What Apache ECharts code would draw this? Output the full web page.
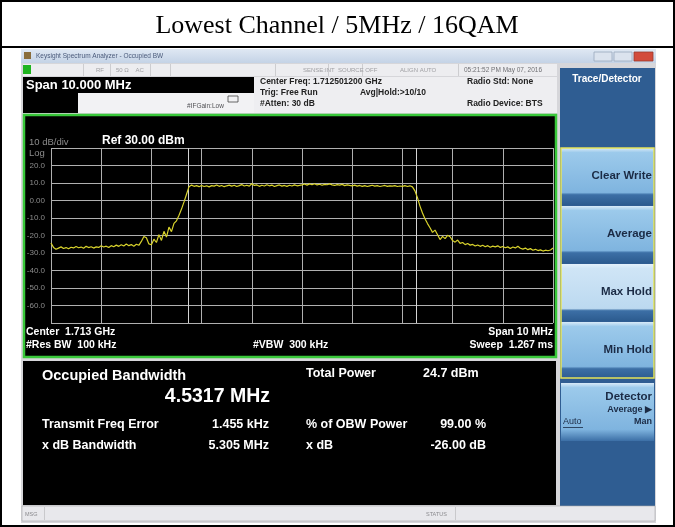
<!DOCTYPE html>
<html>
<head>
<meta charset="utf-8">
<script src="https://cdn.jsdelivr.net/npm/echarts@6/dist/echarts.min.js"></script>
<style>
html, body {margin: 0; padding: 0; background: #fff;}
#main {width: 675px; height: 527px;}
</style>
</head>
<body>
<div id="main"></div>
<script>
// trace: offset from center freq (MHz), one point every 0.05 MHz
var freqStart = -5
var freqStep = 0.05
var traceDbm = [
  -24.3, -26.8, -27.9, -27.2, -26.5, -27.4, -26.9, -27.6, -26.7, -27.1,
  -26.3, -27.0, -26.6, -27.3, -26.2, -26.9, -26.4, -27.2, -26.5, -26.8,
  -25.9, -26.6, -26.1, -26.9, -25.8, -26.4, -25.5, -26.2, -25.3, -26.0,
  -24.9, -25.8, -25.2, -26.1, -25.0, -25.6, -23.4, -20.6, -21.3, -24.8,
  -25.3, -22.1, -24.0, -19.5, -22.8, -17.6, -20.9, -15.2, -17.8, -13.1,
  -11.6, -8.4, -4.9, -0.8, 3.6, 7.9, 8.8, 8.1, 8.5, 7.9,
  8.6, 8.0, 8.4, 7.8, 8.5, 8.2, 8.9, 8.1, 8.6, 7.9,
  8.4, 8.8, 8.2, 8.7, 8.0, 8.5, 9.1, 8.3, 8.7, 8.2,
  9.6, 8.6, 8.9, 8.1, 8.7, 8.3, 9.0, 8.4, 8.8, 8.0,
  8.5, 8.9, 8.2, 8.6, 8.1, 8.7, 8.3, 8.9, 8.4, 8.6,
  8.9, 9.4, 8.8, 9.5, 9.0, 9.6, 8.9, 9.3, 8.7, 9.2,
  9.0, 9.5, 8.9, 8.6, 9.1, 8.8, 9.2, 8.5, 8.9, 8.6,
  8.4, 8.8, 8.2, 8.6, 8.1, 8.5, 8.0, 8.4, 8.7, 8.2,
  8.5, 8.0, 8.3, 8.6, 8.1, 8.4, 8.2, 8.5, 8.0, 8.3,
  8.1, 8.5, 8.0, 8.4, 7.8, 5.5, 1.6, -3.2, -7.1, -10.4,
  -13.2, -15.6, -18.2, -16.9, -19.6, -22.3, -20.5, -21.8, -19.9, -20.7,
  -22.9, -23.8, -22.6, -24.5, -24.0, -25.2, -24.6, -25.5, -25.1, -26.0,
  -25.4, -26.2, -25.6, -26.4, -25.8, -26.7, -26.1, -26.5, -25.9, -26.8,
  -26.3, -27.0, -26.5, -27.4, -26.6, -27.1, -26.2, -27.3, -27.8, -27.2,
  -28.1, -27.5, -28.4, -27.9, -28.6, -28.2, -28.9, -28.4, -28.7, -28.3, -27.2
]
var refLevel = 30
var bottomLevel = -70
var obwEdges = [-2.266, 2.266]

var titleText = 'Lowest Channel / 5MHz / 16QAM'
var resultRows = [
  ['Transmit Freq Error', '1.455 kHz', '% of OBW Power', '99.00 %'],
  ['x dB Bandwidth', '5.305 MHz', 'x dB', '-26.00 dB']
]
var softKeys = ['Clear Write', 'Average', 'Max Hold', 'Min Hold']

var traceData = traceDbm.map(function (v, i) {
  return [+(freqStart + i * freqStep).toFixed(2), v]
})

var BG = -5
function rect(x, y, w, h, fill, extra) {
  var r = {type: 'rect', z: BG, silent: true, shape: {x: x, y: y, width: w, height: h}, style: {fill: fill}}
  if (extra) Object.assign(r.style, extra)
  return r
}
function txt(x, y, s, font, fill, align) {
  return {type: 'text', z: 50, silent: true, x: x, y: y,
    style: {text: s, font: font, fill: fill, align: align || 'left', verticalAlign: 'middle',
      textAlign: align || 'left', textVerticalAlign: 'middle'}}
}
function vgrad(stops) {
  return new echarts.graphic.LinearGradient(0, 0, 0, 1, stops.map(function (c) {
    return {offset: c[0], color: c[1]}
  }))
}

var UI = '"Liberation Sans", Arial, sans-serif'
var g = []
// outer table
g.push(rect(1, 1, 673, 525, '#fff', {stroke: '#000', lineWidth: 2}))
g.push(rect(0, 46, 675, 2, '#000'))
g.push(txt(337, 26, titleText, '26px "Liberation Serif", "Times New Roman", serif', '#000', 'center'))

// instrument frame
g.push(rect(21, 49, 635, 474, '#d6d6da'))
g.push(rect(21, 49, 635, 14, vgrad([[0, '#dfe8f3'], [1, '#c4d3e6']])))
g.push(rect(24, 52, 7, 7, '#8a6d3b'))
g.push(txt(36, 56, 'Keysight Spectrum Analyzer - Occupied BW', '6.5px ' + UI, '#4a5a7a'))
g.push(rect(594, 52, 18, 9, '#dbe3ee', {stroke: '#9aa8bc', lineWidth: 0.8}))
g.push(rect(614, 52, 18, 9, '#dbe3ee', {stroke: '#9aa8bc', lineWidth: 0.8}))
g.push(rect(634, 52, 19, 9, '#d24b3b', {stroke: '#9a3a2e', lineWidth: 0.8}))

// status row
g.push(rect(23, 64, 534, 12, '#ededf0'))
g.push(rect(23, 65, 8, 9, '#1fb41f'))
;[83, 110, 150, 170, 275, 328, 362, 458].forEach(function (x) { g.push(rect(x, 64, 0.8, 12, '#c4c4c8')) })
g.push(txt(96, 70, 'RF', '6px ' + UI, '#a0a0a4'))
g.push(txt(116, 70, '50 Ω    AC', '6px ' + UI, '#a0a0a4'))
g.push(txt(303, 70, 'SENSE:INT  SOURCE OFF', '6px ' + UI, '#a0a0a4'))
g.push(txt(400, 70, 'ALIGN AUTO', '6px ' + UI, '#a0a0a4'))
g.push(txt(464, 70, '05:21:52 PM May 07, 2016', '6.5px ' + UI, '#707074'))

// span / settings header
g.push(rect(23, 77, 231, 16, '#000'))
g.push(txt(26, 85, 'Span 10.000 MHz', 'bold 13px ' + UI, '#fff'))
g.push(rect(23, 93, 55, 20, '#000'))
g.push(rect(78, 93, 178, 20, '#f2f2f4'))
g.push(rect(254, 77, 303, 36, '#eeeef1'))
g.push(txt(187, 106, '#IFGain:Low', '6.5px ' + UI, '#505054'))
g.push(rect(228, 96, 10, 6, '#f2f2f4', {stroke: '#444', lineWidth: 0.8}))
var hdr = 'bold 8.5px ' + UI
g.push(txt(260, 82, 'Center Freq: 1.712501200 GHz', hdr, '#222'))
g.push(txt(260, 93, 'Trig: Free Run', hdr, '#222'))
g.push(txt(360, 93, 'Avg|Hold:>10/10', hdr, '#222'))
g.push(txt(260, 104, '#Atten: 30 dB', hdr, '#222'))
g.push(txt(467, 82, 'Radio Std: None', hdr, '#222'))
g.push(txt(467, 104, 'Radio Device: BTS', hdr, '#222'))

// plot frame
g.push(rect(24, 115, 532, 242, '#000', {stroke: '#39c83a', lineWidth: 2.5}))
g.push(txt(29, 142, '10 dB/div', '9.5px ' + UI, '#8c8c8c'))
g.push(txt(102, 141, 'Ref 30.00 dBm', 'bold 12px ' + UI, '#fff'))
g.push(txt(29, 153, 'Log', '9.5px ' + UI, '#8c8c8c'))
var lbl = 'bold 10.5px ' + UI
g.push(txt(26, 332, 'Center  1.713 GHz', lbl, '#fff'))
g.push(txt(26, 345, '#Res BW  100 kHz', lbl, '#fff'))
g.push(txt(253, 345, '#VBW  300 kHz', lbl, '#fff'))
g.push(txt(553, 332, 'Span 10 MHz', lbl, '#fff', 'right'))
g.push(txt(553, 345, 'Sweep  1.267 ms', lbl, '#fff', 'right'))

// results panel
g.push(rect(23, 361, 533, 144, '#000'))
g.push(txt(42, 376, 'Occupied Bandwidth', 'bold 14.5px ' + UI, '#fff'))
g.push(txt(270, 397, '4.5317 MHz', 'bold 19.5px ' + UI, '#fff', 'right'))
g.push(txt(306, 374, 'Total Power', 'bold 12.5px ' + UI, '#fff'))
g.push(txt(423, 374, '24.7 dBm', 'bold 12.5px ' + UI, '#fff'))
resultRows.forEach(function (r, i) {
  var y = 425 + i * 21
  var f = 'bold 12.5px ' + UI
  g.push(txt(42, y, r[0], f, '#fff'))
  g.push(txt(269, y, r[1], f, '#fff', 'right'))
  g.push(txt(306, y, r[2], f, '#fff'))
  g.push(txt(486, y, r[3], f, '#fff', 'right'))
})

// soft key panel
g.push(rect(560, 68, 95, 438, '#2f5d92'))
g.push(txt(607, 79, 'Trace/Detector', 'bold 10px ' + UI, '#fff', 'center'))
softKeys.forEach(function (k, i) {
  var y = 148 + i * 58
  var body = i === 2 ? [[0, '#e4f1fb'], [0.08, '#cfe5f6'], [0.78, '#bcd9f0'], [0.82, '#3c6fa6'], [1, '#2c5b8f']]
    : [[0, '#d8eaf8'], [0.08, '#9ccaeb'], [0.78, '#7fb4df'], [0.82, '#3c6fa6'], [1, '#2c5b8f']]
  g.push(rect(561, y, 93, 57, vgrad(body)))
  g.push(txt(652, y + 28, k, 'bold 11.5px ' + UI, '#1b2b45', 'right'))
})
g.push(rect(561, 148, 93, 230, 'none', {stroke: '#e6e35a', lineWidth: 1.5}))
g.push(rect(561, 383, 93, 58, vgrad([[0, '#d8eaf8'], [0.08, '#9ccaeb'], [0.8, '#7fb4df'], [1, '#3c6fa6']])))
g.push(txt(652, 397, 'Detector', 'bold 11.5px ' + UI, '#1b2b45', 'right'))
g.push(txt(652, 410, 'Average ▶', 'bold 9px ' + UI, '#1b2b45', 'right'))
g.push(txt(563, 422, 'Auto', '9px ' + UI, '#1b2b45'))
g.push(rect(563, 427, 20, 0.8, '#1b2b45'))
g.push(txt(652, 422, 'Man', 'bold 9px ' + UI, '#1b2b45', 'right'))

// status bar
g.push(rect(22, 506, 633, 15, '#e8e8ec', {stroke: '#a8a8ac', lineWidth: 0.6}))
g.push(rect(44, 507, 0.8, 13, '#c0c0c4'))
g.push(rect(455, 507, 0.8, 13, '#c0c0c4'))
g.push(txt(25, 514, 'MSG', '5.5px ' + UI, '#8a8a8e'))
g.push(txt(426, 514, 'STATUS', '5.5px ' + UI, '#8a8a8e'))

var chart = echarts.init(document.getElementById('main'))
chart.setOption({
  animation: false,
  graphic: g,
  grid: {left: 51, top: 148, width: 502, height: 175, containLabel: false},
  xAxis: {
    type: 'value', min: freqStart, max: -freqStart, interval: 1,
    axisLine: {show: false}, axisTick: {show: false}, axisLabel: {show: false},
    splitLine: {show: true, lineStyle: {color: '#b0b0b0', width: 1}}
  },
  yAxis: {
    type: 'value', min: bottomLevel, max: refLevel, interval: 10,
    axisLine: {show: false}, axisTick: {show: false},
    axisLabel: {
      margin: 6, color: '#8c8c8c', fontSize: 8, fontFamily: 'Liberation Sans',
      formatter: function (v) {
        if (v === refLevel || v === bottomLevel) return ''
        return v === 0 ? '0.00' : v.toFixed(1)
      }
    },
    splitLine: {show: true, lineStyle: {color: '#b0b0b0', width: 1}}
  },
  series: [{
    type: 'line', symbol: 'none', data: traceData, z: 5,
    lineStyle: {color: '#d8d22c', width: 1.2},
    markLine: {
      silent: true, symbol: 'none', label: {show: false},
      lineStyle: {color: '#d4d4d4', width: 1, type: 'solid'},
      data: obwEdges.map(function (x) { return {xAxis: x} })
    }
  }]
})
</script>
</body>
</html>
